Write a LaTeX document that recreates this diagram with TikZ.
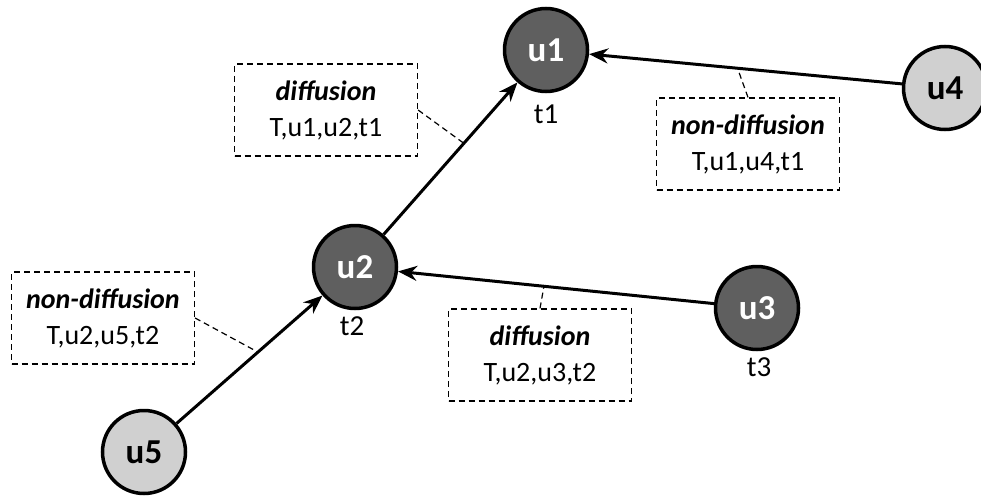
\documentclass[tikz,border=0pt]{standalone}
\usepackage{fontspec}
\setmainfont{Carlito}
\usetikzlibrary{calc,arrows.meta}
\definecolor{darknode}{HTML}{5F5F5F}
\definecolor{lightnode}{HTML}{D0D0D0}
\begin{document}
\begin{tikzpicture}[>={Stealth[length=19pt,width=15pt]},x=1pt,y=-1pt,
		user/.style={circle,draw=black,line width=3.5pt,minimum size=83pt,inner sep=0pt,font=\fontsize{35}{38}\selectfont\bfseries},
		seen/.style={user,fill=darknode,text=white},
		unseen/.style={user,fill=lightnode,text=black},
		tag/.style={draw,dashed,line width=1.2pt,dash pattern=on 6pt off 4pt,minimum width=183pt,minimum height=92pt,align=center,font=\fontsize{28}{36}\selectfont},
		stamp/.style={font=\fontsize{29}{32}\selectfont},
		link/.style={->,line width=3pt},
		lead/.style={dashed,line width=1.2pt,dash pattern=on 6pt off 4pt}]
	\useasboundingbox (0,0) rectangle (981,495);
	% users
	\node[seen] (u1) at (546,50) {u1};
	\node[seen] (u2) at (355,267) {u2};
	\node[seen] (u3) at (757,308) {u3};
	\node[unseen] (u4) at (945,88) {u4};
	\node[unseen] (u5) at (144,452) {u5};
	\node[stamp] (t1) at (546,114) {t1};
	\node[stamp] (t2) at (352,326) {t2};
	\node[stamp] (t3) at (759,367) {t3};
	% edges
	\draw[link] (u5) -- (u2);
	\draw[link] (u2) -- (u1);
	\draw[link] (u3) -- (u2);
	\draw[link] (u4) -- (u1);
	\coordinate (m21) at ($(u2)!0.57!(u1)$);
	\coordinate (m52) at ($(u5)!0.54!(u2)$);
	\coordinate (m32) at ($(u3)!0.53!(u2)$);
	\coordinate (m41) at ($(u4)!0.52!(u1)$);
	% tags
	\node[tag] (b1) at (326,110) {\textbf{\textit{diffusion}}\\T,u1,u2,t1};
	\node[tag] (b2) at (103,318) {\textbf{\textit{non-diffusion}}\\T,u2,u5,t2};
	\node[tag] (b3) at (540,355) {\textbf{\textit{diffusion}}\\T,u2,u3,t2};
	\node[tag] (b4) at (748,144) {\textbf{\textit{non-diffusion}}\\T,u1,u4,t1};
	\draw[lead] (b1.east) -- (m21);
	\draw[lead] (b2.east) -- (m52);
	\draw[lead] (b3.north) -- (m32);
	\draw[lead] (b4.north) -- (m41);
\end{tikzpicture}
\end{document}
